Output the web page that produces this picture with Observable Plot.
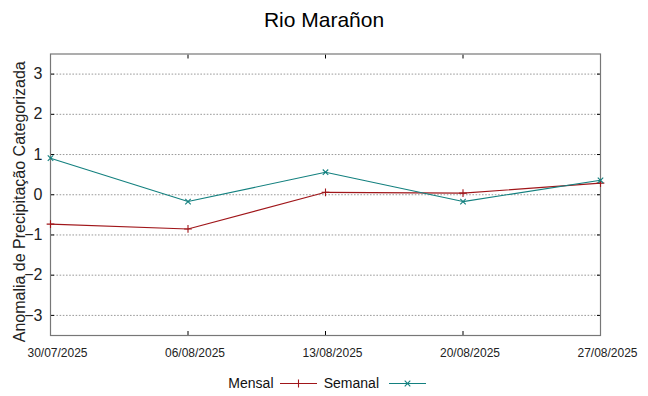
<!DOCTYPE html>
<html>
<head>
<meta charset="utf-8">
<script src="https://cdn.jsdelivr.net/npm/d3@7"></script>
<script src="https://cdn.jsdelivr.net/npm/@observablehq/plot@0.6"></script>
<style>
  html, body { margin: 0; padding: 0; background: #fff; }
  #wrap { width: 648px; height: 396px; font-family: "Liberation Sans", Arial, sans-serif; }
  #title { height: 40px; line-height: 40px; text-align: center; font-size: 21px; color: #000; box-sizing: border-box; }
  #legend { height: 26px; position: relative; font-family: "Liberation Sans", Arial, sans-serif; font-size: 14px; line-height: 16px; color: #111; }
  #legend span { position: absolute; top: 5px; white-space: nowrap; }
  #legend svg { position: absolute; top: 0; }
</style>
</head>
<body>
<div id="wrap">
  <div id="title">Rio Marañon</div>
  <div id="chart"></div>
  <div id="legend"></div>
</div>
<script>
const dates = ["2025-07-30", "2025-08-06", "2025-08-13", "2025-08-20", "2025-08-27"];
const mensal = [-0.73, -0.85, 0.06, 0.04, 0.29];
const semanal = [0.91, -0.17, 0.56, -0.17, 0.36];
const yTicks = [-3, -2, -1, 0, 1, 2, 3];
const seriesNames = ["Mensal", "Semanal"];
const yLabel = "Anomalia de Precipitação Categorizada";

const redColor = "#a0161a";
const tealColor = "#13807f";

const parse = d3.utcParse("%Y-%m-%d");
const xDates = dates.map(parse);
const rowsM = xDates.map((d, i) => ({date: d, value: mensal[i]}));
const rowsS = xDates.map((d, i) => ({date: d, value: semanal[i]}));

const chart = Plot.plot({
  width: 648,
  height: 330,
  marginTop: 13.5,
  marginBottom: 35,
  marginLeft: 50,
  marginRight: 48,
  style: {fontFamily: "Liberation Sans, Arial, sans-serif", overflow: "visible", background: "#fff"},
  x: {type: "utc", domain: [xDates[0], xDates[xDates.length - 1]], label: null},
  y: {domain: [-3.5, 3.5], label: null},
  marks: [
    Plot.ruleY(yTicks, {stroke: "#9a9a9a", strokeDasharray: "1.6,1.6", strokeWidth: 1}),
    Plot.axisY(yTicks, {anchor: "left", tickSize: 0, tickPadding: 8, fontSize: 16, fill: "#222", label: null}),
    Plot.axisY(yTicks, {anchor: "left", tickSize: -4, text: null, stroke: "#000", label: null}),
    Plot.axisY(yTicks, {anchor: "right", tickSize: -4, text: null, stroke: "#000", label: null}),
    Plot.axisX(xDates, {anchor: "bottom", tickSize: 0, tickPadding: 13, dx: 7, tickFormat: d3.utcFormat("%d/%m/%Y"), fontSize: 12, fill: "#222", label: null}),
    Plot.axisX(xDates, {anchor: "bottom", tickSize: -4, text: null, stroke: "#000", label: null}),
    Plot.axisX(xDates, {anchor: "top", tickSize: -4, text: null, stroke: "#000", label: null}),
    Plot.frame({stroke: "#777", strokeWidth: 1.2}),
    Plot.text([yLabel], {frameAnchor: "left", textAnchor: "middle", rotate: -90, dx: -31, dy: 7, fontSize: 16, fill: "#222"}),
    Plot.line(rowsM, {x: "date", y: "value", stroke: redColor, strokeWidth: 1.1}),
    Plot.dot(rowsM, {x: "date", y: "value", symbol: "plus", r: 2.6, stroke: redColor, strokeWidth: 1.1, fill: "none"}),
    Plot.line(rowsS, {x: "date", y: "value", stroke: tealColor, strokeWidth: 1.1}),
    Plot.dot(rowsS, {x: "date", y: "value", symbol: "times", r: 2.6, stroke: tealColor, strokeWidth: 1.1, fill: "none"})
  ]
});
document.getElementById("chart").appendChild(chart);

// Legend
const legend = document.getElementById("legend");
const items = [
  {name: seriesNames[0], color: redColor, symbol: d3.symbolPlus, textRight: 273.5, lineLeft: 280},
  {name: seriesNames[1], color: tealColor, symbol: d3.symbolTimes, textRight: 379, lineLeft: 389}
];
for (const it of items) {
  const span = document.createElement("span");
  span.textContent = it.name;
  span.style.right = (648 - it.textRight) + "px";
  legend.appendChild(span);
  const svg = d3.create("svg").attr("width", 38).attr("height", 26)
    .style("left", it.lineLeft + "px");
  svg.append("line").attr("x1", 0).attr("x2", 37).attr("y1", 13.5).attr("y2", 13.5)
    .attr("stroke", it.color).attr("stroke-width", 1.1);
  svg.append("path").attr("d", d3.symbol(it.symbol, 22)())
    .attr("transform", "translate(18.5,13.5)").attr("stroke", it.color).attr("fill", "none").attr("stroke-width", 1.1);
  legend.appendChild(svg.node());
}
</script>
</body>
</html>
